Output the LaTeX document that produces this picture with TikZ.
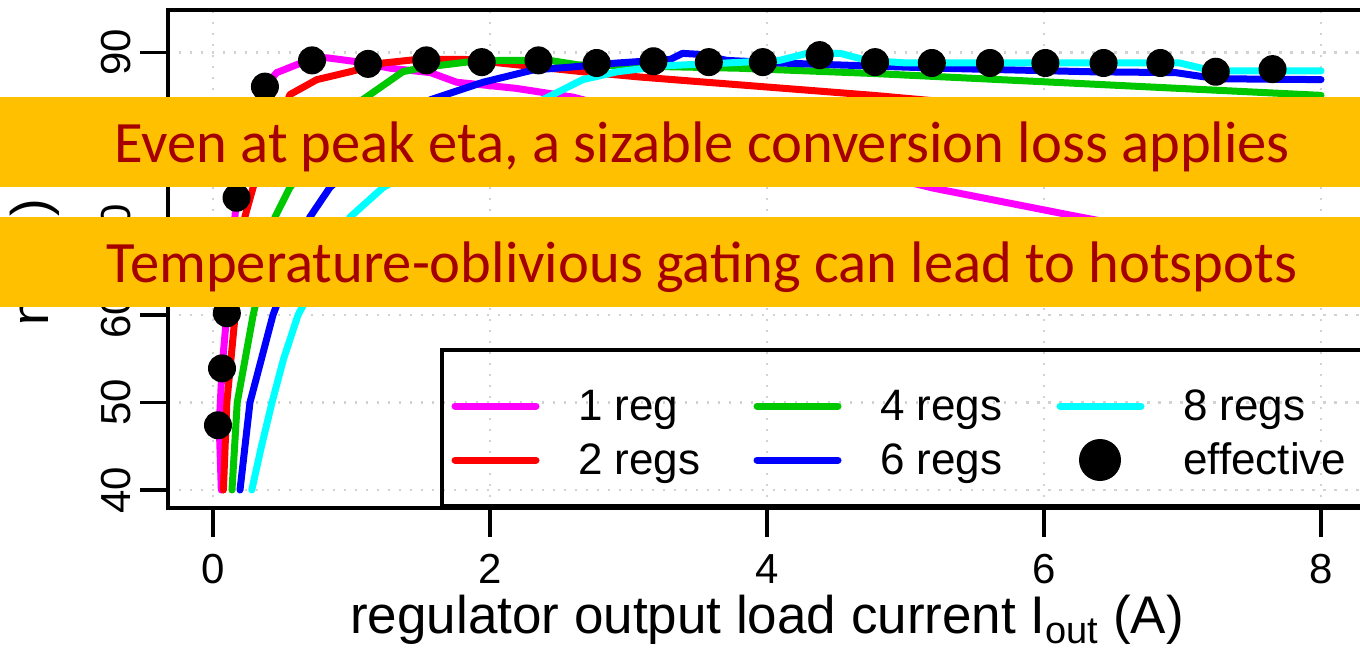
\documentclass[tikz,border=0pt]{standalone}
\usepackage{fontspec}
\setmainfont{Liberation Sans}
\newfontfamily\calloutfont{Carlito}
\usetikzlibrary{positioning}

\definecolor{calloutbg}{RGB}{255,192,0}
\definecolor{callouttxt}{RGB}{165,0,0}
\definecolor{regmag}{RGB}{255,0,255}
\definecolor{regred}{RGB}{255,0,0}
\definecolor{reggrn}{RGB}{0,200,0}
\definecolor{regblu}{RGB}{0,0,255}
\definecolor{regcyn}{RGB}{0,255,255}

\newcommand{\lowsub}[1]{{\fontsize{38}{38}\selectfont\raisebox{-10pt}{#1}}}

\tikzset{
  axis/.style={line width=3.5pt},
  gridln/.style={gray!35,line width=2.5pt,dash pattern=on 2.5pt off 8.5pt},
  curve/.style={line width=7pt,line cap=round,line join=round},
  effdot/.style={fill=black},
  ticktxt/.style={inner sep=0pt,font=\fontsize{42}{42}\selectfont},
  legtxt/.style={inner sep=0pt,text height=35pt,text depth=7pt,font=\fontsize{44}{44}\selectfont},
  labtxt/.style={inner sep=0pt,font=\fontsize{53}{53}\selectfont},
  callout/.style={fill=calloutbg,text=callouttxt,minimum width=1500pt,minimum height=90pt,
    inner sep=0pt,text height=40pt,text depth=0pt,font=\calloutfont\fontsize{58.6}{58.6}\selectfont}
}

\begin{document}
\begin{tikzpicture}[x=1pt,y=-1pt]
\useasboundingbox (0,0) rectangle (1360,650);

\begin{scope}[shift={(213pt,-840pt)},x=138.5pt,y=8.75pt]
  % grid
  \foreach \gx in {0,2,...,8}
    \draw[gridln] (\gx,37.94) -- (\gx,94.86);
  \foreach \gy in {40,50,...,90}
    \draw[gridln] (-0.325,\gy) -- (8.4,\gy);

  % box and ticks
  \draw[axis] (-0.325,37.94) rectangle (8.4,94.86);
  \foreach \gx in {0,2,...,8} {
    \draw[axis] (\gx,37.94) -- ++(0pt,-29pt) coordinate (xt\gx);
    \node[ticktxt,anchor=base] (xl\gx) at ([yshift=-46pt]xt\gx) {\gx};
  }
  \foreach \gy in {40,50,...,90} {
    \draw[axis] (-0.325,\gy) -- ++(-28pt,0pt) coordinate (yt\gy);
    \node[ticktxt,rotate=90,anchor=base] (yl\gy) at ([xshift=-9pt]yt\gy) {\gy};
  }

  % one curve per regulator count
  \draw[curve,regmag] plot coordinates {(0.06,40) (0.045,47.4) (0.065,53.9) (0.10,60.2)
    (0.17,73.4) (0.375,86.1) (0.46,87.7) (0.715,89.3) (0.82,89.4) (1.06,88.9) (1.28,88.2)
    (1.57,87.7) (1.76,86.6) (2.19,85.9) (2.6,84.9) (3.9,79.5) (5.2,74.5) (6.26,71.2) (8,66)};
  \draw[curve,regred] plot coordinates {(0.075,40) (0.10,50) (0.16,60) (0.23,71.2)
    (0.29,74.6) (0.556,85.2) (0.75,86.9) (0.99,87.8) (1.23,88.8) (1.47,89.2) (1.83,89.2)
    (2.19,88.6) (2.67,87.8) (3.08,87.2) (4.77,85.1) (8,80.5)};
  \draw[curve,reggrn] plot coordinates {(0.137,40) (0.175,50) (0.29,60) (0.448,71.2)
    (0.556,74.6) (1.08,84.6) (1.37,87.8) (1.52,88.3) (1.83,88.9) (2.07,89.1) (2.43,89.1)
    (2.63,88.6) (3.8,88.2) (4.77,87.6) (6.33,86.4) (8,85.1)};
  \draw[curve,regblu] plot coordinates {(0.195,40) (0.267,50) (0.433,60) (0.70,71.2)
    (0.845,74.6) (1.57,84.6) (1.95,86.6) (2.31,88.0) (2.56,88.3) (2.92,88.8) (3.30,89.2)
    (3.39,89.9) (3.50,89.8) (3.71,89.1) (4.09,88.8) (5.25,88.2) (6.33,87.8) (6.95,87.7)
    (7.25,87.0) (8,86.9)};
  \draw[curve,regcyn] plot coordinates {(0.28,40) (0.35,45) (0.426,50) (0.51,55) (0.614,60)
    (0.99,71.2) (1.23,74.6) (2.38,84.6) (2.67,86.9) (2.92,87.8) (3.28,88.5) (3.71,88.8)
    (4.09,89.1) (4.29,89.9) (4.53,89.9) (4.72,89.1) (5.01,88.8) (6.98,88.8) (7.22,87.9)
    (8,87.9)};

  % effective efficiency
  \foreach \ex/\ey in {0.036/47.4, 0.065/53.9, 0.10/60.2, 0.17/73.4, 0.375/86.1,
      0.715/89.1, 1.12/88.7, 1.54/89.1, 1.94/88.9, 2.35/89.1, 2.77/88.8, 3.18/89.0,
      3.58/88.9, 3.97/88.9, 4.38/89.7, 4.78/88.9, 5.19/88.8, 5.61/88.8, 6.01/88.8,
      6.43/88.8, 6.84/88.8, 7.24/87.8, 7.65/88.1}
    \fill[effdot] (\ex,\ey) circle (14pt);
\end{scope}

% legend
\draw[axis] (442,350) rectangle (1380,506);
\foreach \n/\lx/\ly/\col/\txt in {1/455/406/regmag/1 reg, 2/455/460/regred/2 regs,
    3/757/406/reggrn/4 regs, 4/757/460/regblu/6 regs, 5/1060/406/regcyn/8 regs} {
  \draw[curve,\col] (\lx,\ly) -- ++(81,0) coordinate (ls\n);
  \node[legtxt,right=42pt of ls\n] (lt\n) {\txt};
}
\coordinate (ls6) at (1100,460);
\fill[effdot] (ls6) circle (21pt);
\node[legtxt,right=83pt of ls6] (lt6) {effective};

% axis titles
\node[labtxt,anchor=base] (xlabel) at (767,633) {regulator output load current I\lowsub{out} (A)};
\node[labtxt,rotate=90,anchor=base] (ylabel) at (48,262) {η (\%)};

% callouts
\node[callout] (peak) at (702,142) {Even at peak eta, a sizable conversion loss applies};
\node[callout] (gating) at (702,262) {Temperature-oblivious gating can lead to hotspots};
\end{tikzpicture}
\end{document}
